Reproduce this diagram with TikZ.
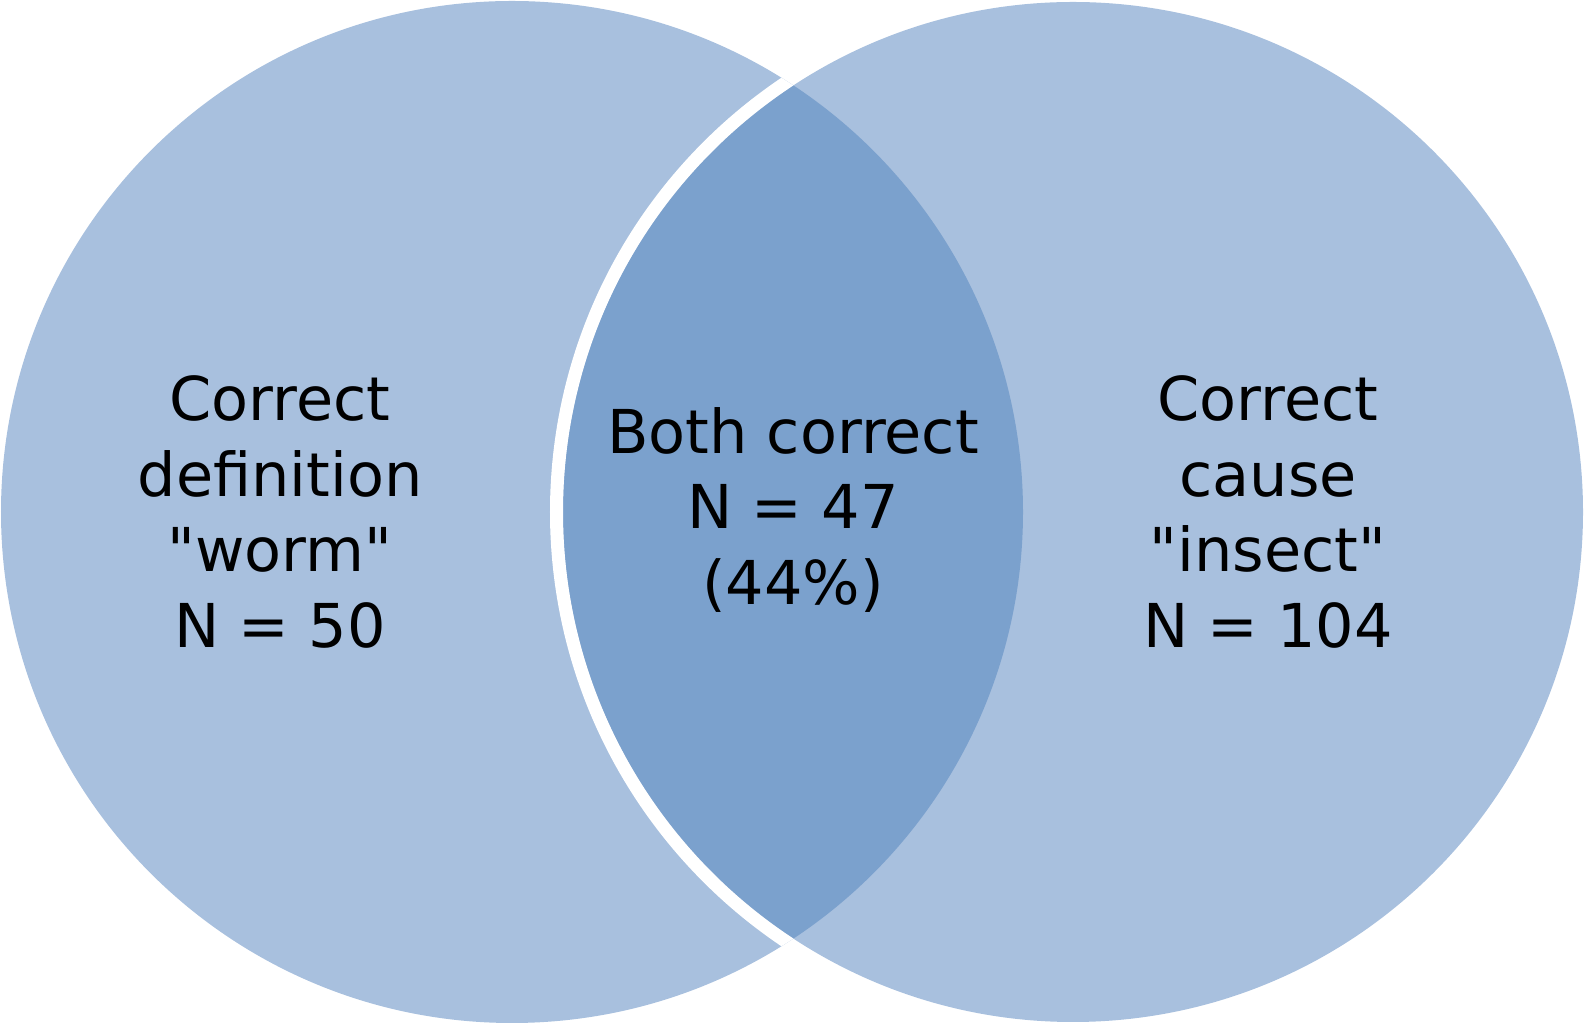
\documentclass[tikz,border=0pt]{standalone}
\usepackage{fontspec}
\setmainfont{DejaVu Sans}[Ligatures=TeXOff]
\usetikzlibrary{positioning}
\definecolor{vennlight}{RGB}{168,192,222}
\definecolor{venndark}{RGB}{123,161,205}

\begin{document}
\begin{tikzpicture}[x=0.01cm, y=0.01cm,
    setlabel/.style={align=center, text=black, font=\fontsize{17.2}{21.6}\selectfont}]
          \useasboundingbox (0,0) rectangle (1584,1024);
          \coordinate (lc) at (512,512);
          \coordinate (rc) at (1073,512);
          % Draw the two sets
          \fill[vennlight] (lc) circle (511);
          \fill[vennlight] (rc) circle (510);
          \begin{scope}
            \clip (lc) circle (511);
            \fill[venndark] (rc) circle (510);
            % Draw a gap
            \draw[white, line width=3.7pt] (rc) circle (516.5);
          \end{scope}
          \node[setlabel] (defn) at (280,512) {Correct\\definition\\"worm"\\N = 50};
          \node[setlabel] (both) at (793,514) {Both correct\\N = 47\\(44\%)};
          \node[setlabel] (cause) at (1268,512) {Correct\\cause\\"insect"\\N = 104};
        \end{tikzpicture}
\end{document}
